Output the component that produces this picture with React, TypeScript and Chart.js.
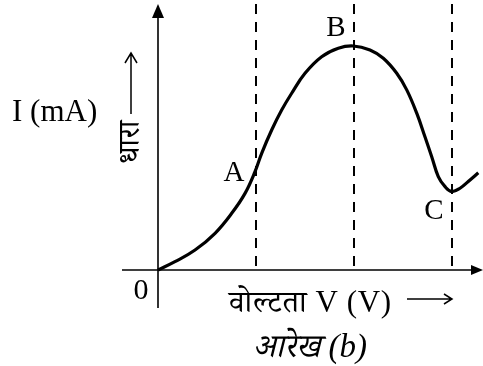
import React, { useEffect, useRef } from "react";
import { Chart, registerables } from "chart.js";
Chart.register(...registerables);

// Tunnel-diode style I–V curve (arbitrary units)
const voltage = [0, 0.173, 0.378, 0.582, 0.752, 0.888, 0.99, 1.058, 1.16, 1.262, 1.364, 1.5, 1.67, 1.84, 1.993, 2.163, 2.299, 2.436, 2.538, 2.64, 2.724, 2.793, 2.86, 2.929, 2.997, 3.082, 3.184, 3.268];
const current = [0, 0.37, 0.89, 1.64, 2.53, 3.42, 4.39, 5.21, 6.25, 7.14, 7.89, 8.78, 9.52, 9.9, 10.0, 9.82, 9.45, 8.78, 8.04, 7.0, 5.95, 5.06, 4.17, 3.72, 3.5, 3.65, 4.02, 4.34];

// dashed reference voltages (through A, B, C)
const markerVoltages = [1, 2, 3];
const pointNames = ["A", "B", "C"];
const pointLabelV = [0.776, 1.816, 2.816];
const pointLabelI = [4.33, 10.8, 2.6];

const yAxisTitle = "I (mA)";
const yAxisHindi = "धारा";
const xAxisTitle = "वोल्टता V (V)";
const caption = "आरेख (b)";
const originLabel = "0";

const W = 483;
const H = 366;

const SERIF = '"Liberation Serif", "DejaVu Serif", "Noto Serif Devanagari", "Noto Sans Devanagari", "Lohit Devanagari", serif';

const overlay = {
  id: "diagram",
  beforeDatasetsDraw(chart: any) {
    const ctx = chart.ctx as CanvasRenderingContext2D;
    const xs = chart.scales.x;
    const ys = chart.scales.y;
    const x0 = xs.getPixelForValue(0);
    const y0 = ys.getPixelForValue(0);
    ctx.save();
    // dashed verticals
    ctx.strokeStyle = "#000";
    ctx.lineWidth = 2;
    ctx.setLineDash([10, 8]);
    markerVoltages.forEach((v) => {
      const px = Math.round(xs.getPixelForValue(v));
      ctx.beginPath();
      ctx.moveTo(px, 4);
      ctx.lineTo(px, y0);
      ctx.stroke();
    });
    ctx.setLineDash([]);
    // axes
    ctx.lineWidth = 1.6;
    ctx.beginPath();
    ctx.moveTo(122, y0);
    ctx.lineTo(W - 6, y0);
    ctx.moveTo(x0, 308);
    ctx.lineTo(x0, 14);
    ctx.stroke();
    // x arrow head
    ctx.fillStyle = "#000";
    ctx.beginPath();
    ctx.moveTo(W, y0);
    ctx.lineTo(W - 12, y0 - 5);
    ctx.lineTo(W - 12, y0 + 5);
    ctx.closePath();
    ctx.fill();
    // y arrow head
    ctx.beginPath();
    ctx.moveTo(x0, 4);
    ctx.lineTo(x0 - 6, 18);
    ctx.lineTo(x0 + 6, 18);
    ctx.closePath();
    ctx.fill();
    ctx.restore();
  },
  afterDatasetsDraw(chart: any) {
    const ctx = chart.ctx as CanvasRenderingContext2D;
    const xs = chart.scales.x;
    const ys = chart.scales.y;
    ctx.save();
    ctx.fillStyle = "#000";
    ctx.strokeStyle = "#000";
    // point labels
    ctx.font = `29px ${SERIF}`;
    ctx.textAlign = "center";
    ctx.textBaseline = "middle";
    pointNames.forEach((n, k) => {
      ctx.fillText(n, xs.getPixelForValue(pointLabelV[k]), ys.getPixelForValue(pointLabelI[k]));
    });
    ctx.font = `30px ${SERIF}`;
    ctx.fillText(originLabel, 141, 291);
    // y title
    ctx.textAlign = "left";
    ctx.textBaseline = "alphabetic";
    ctx.font = `31px ${SERIF}`;
    ctx.fillText(yAxisTitle, 12, 121);
    // small up arrow + rotated hindi
    ctx.lineWidth = 1.5;
    ctx.beginPath();
    ctx.moveTo(131, 114);
    ctx.lineTo(131, 53);
    ctx.moveTo(125, 63);
    ctx.lineTo(131, 53);
    ctx.lineTo(137, 63);
    ctx.stroke();
    ctx.save();
    ctx.translate(131, 142);
    ctx.rotate(-Math.PI / 2);
    ctx.textAlign = "center";
    ctx.textBaseline = "middle";
    ctx.font = `30px ${SERIF}`;
    ctx.fillText(yAxisHindi, 0, 0);
    ctx.restore();
    // x title
    ctx.font = `31px ${SERIF}`;
    ctx.textAlign = "left";
    ctx.textBaseline = "alphabetic";
    (ctx as any).letterSpacing = "0.6px";
    ctx.fillText(xAxisTitle, 229, 312);
    (ctx as any).letterSpacing = "0px";
    // long arrow
    ctx.lineWidth = 1.5;
    ctx.beginPath();
    ctx.moveTo(407, 299);
    ctx.lineTo(452, 299);
    ctx.moveTo(444, 294);
    ctx.lineTo(452, 299);
    ctx.lineTo(444, 304);
    ctx.stroke();
    // caption
    ctx.font = `italic 33px ${SERIF}`;
    ctx.textAlign = "center";
    ctx.fillText(caption, 310, 357);
    ctx.restore();
  },
};

export default function App() {
  const ref = useRef<HTMLCanvasElement | null>(null);
  useEffect(() => {
    document.body.style.margin = "0";
    const canvas = ref.current;
    if (!canvas) return;
    const pxPerV = 98;
    const pxPerI = 22.4;
    const xMin = -158 / pxPerV;
    const yMax = 270 / pxPerI;
    const chart = new Chart(canvas, {
      type: "line",
      data: {
        datasets: [
          {
            data: voltage.map((v, k) => ({ x: v, y: current[k] })),
            borderColor: "#000",
            borderWidth: 3.2,
            pointRadius: 0,
            tension: 0.4,
            fill: false,
          },
        ],
      },
      options: {
        animation: false,
        responsive: false,
        events: [],
        layout: { padding: 0 },
        plugins: { legend: { display: false }, tooltip: { enabled: false }, title: { display: false } },
        scales: {
          x: { type: "linear", display: false, min: xMin, max: xMin + W / pxPerV },
          y: { type: "linear", display: false, min: yMax - H / pxPerI, max: yMax },
        },
      },
      plugins: [overlay],
    });
    return () => chart.destroy();
  }, []);
  return (
    <div style={{ position: "absolute", left: 0, top: 0, width: W, height: H, background: "#fff" }}>
      <canvas ref={ref} width={W} height={H} style={{ display: "block" }} />
    </div>
  );
}
